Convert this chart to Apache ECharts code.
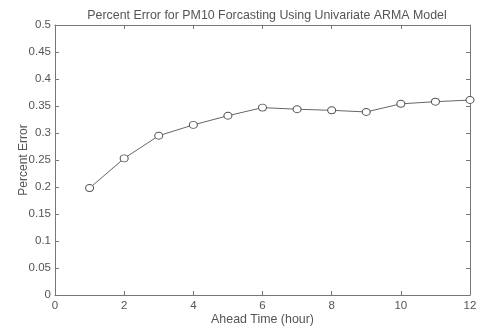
<!DOCTYPE html>
<html>
<head>
<meta charset="utf-8">
<script src="https://cdn.jsdelivr.net/npm/echarts@6/dist/echarts.min.js"></script>
<style>
  html, body { margin: 0; padding: 0; background: #fff; }
  #chart { width: 478px; height: 326px; }
</style>
</head>
<body>
<div id="chart"></div>
<script>
// Forecast horizon (hours) and percent error of the univariate ARMA model
const aheadHours = [1, 2, 3, 4, 5, 6, 7, 8, 9, 10, 11, 12];
const percentError = [0.198, 0.253, 0.295, 0.315, 0.332, 0.347, 0.344, 0.342, 0.339, 0.354, 0.358, 0.361];

const titleText = 'Percent Error for PM10 Forcasting Using Univariate ARMA Model';
const xAxisName = 'Ahead Time (hour)';
const yAxisName = 'Percent Error';

const textColor = '#555';
const axisColor = '#777';
const font = 'Liberation Sans, Arial, sans-serif';

const points = aheadHours.map((h, i) => [h, percentError[i]]);

const frameAxis = (extra) => Object.assign({
  axisLine: { show: true, onZero: false, lineStyle: { color: axisColor, width: 1 } },
  axisTick: { show: true, inside: true, length: 4, lineStyle: { color: axisColor } },
  splitLine: { show: false },
  axisLabel: { show: false }
}, extra);

const chart = echarts.init(document.getElementById('chart'), null, { renderer: 'canvas' });
chart.setOption({
  animation: false,
  backgroundColor: '#fff',
  title: {
    text: titleText,
    left: 262, top: 5, textAlign: 'center',
    textStyle: { fontFamily: font, fontSize: 12.4, fontWeight: 'normal', color: textColor }
  },
  grid: { left: 55, right: 8, top: 25, bottom: 31, containLabel: false, outerBoundsMode: 'none' },
  xAxis: [
    frameAxis({
      type: 'value', min: 0, max: 12, interval: 2, position: 'bottom',
      name: xAxisName, nameLocation: 'middle', nameGap: 19, nameMoveOverlap: false,
      nameTextStyle: { fontFamily: font, fontSize: 12.4, color: textColor },
      axisLabel: { show: true, fontFamily: font, fontSize: 11.5, color: textColor, margin: 5 }
    }),
    frameAxis({ type: 'value', min: 0, max: 12, interval: 2, position: 'top' })
  ],
  yAxis: [
    frameAxis({
      type: 'value', min: 0, max: 0.5, interval: 0.05, position: 'left',
      name: yAxisName, nameLocation: 'middle', nameGap: 25, nameMoveOverlap: false,
      nameTextStyle: { fontFamily: font, fontSize: 12, color: textColor },
      axisLabel: { show: true, fontFamily: font, fontSize: 11.5, color: textColor, margin: 4,
        formatter: v => String(parseFloat(v.toFixed(2))) }
    }),
    frameAxis({ type: 'value', min: 0, max: 0.5, interval: 0.05, position: 'right' })
  ],
  series: [{
    type: 'line',
    data: points,
    xAxisIndex: 0, yAxisIndex: 0,
    symbol: 'circle', symbolSize: [8, 7],
    lineStyle: { color: '#666', width: 1 },
    itemStyle: { color: '#fff', borderColor: '#555', borderWidth: 1 }
  }]
});
</script>
</body>
</html>
